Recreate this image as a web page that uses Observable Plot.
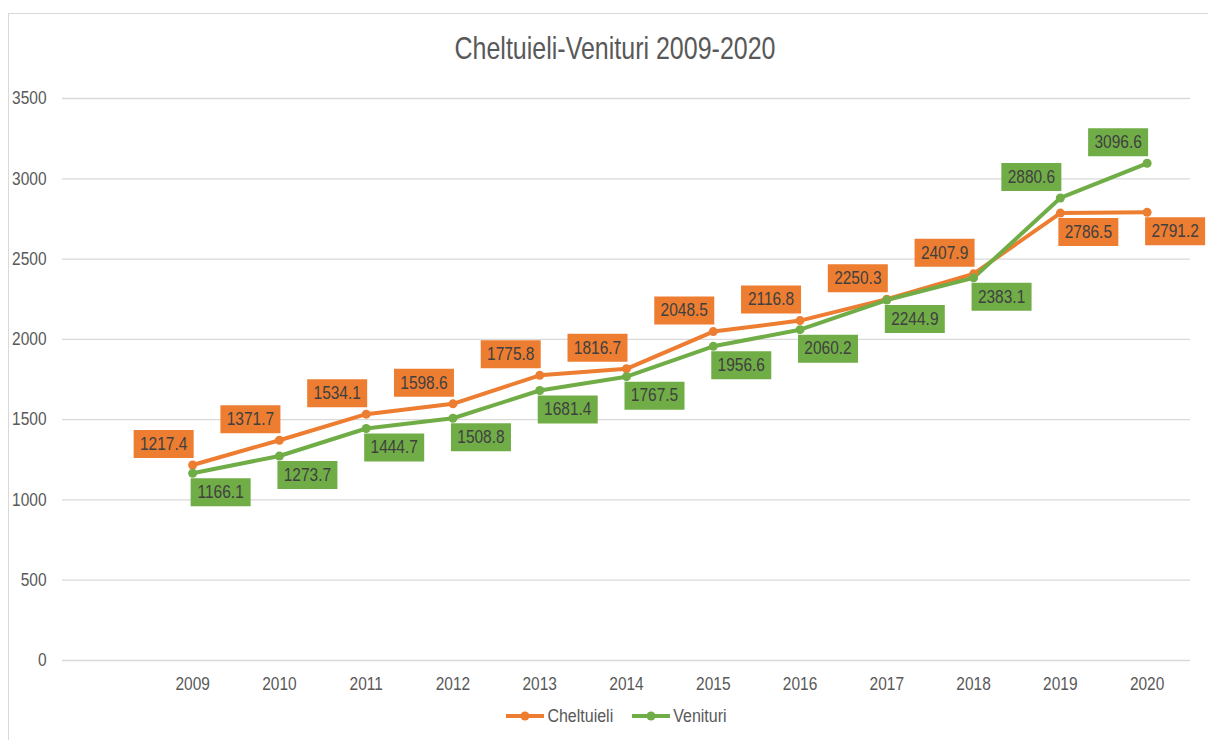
<!DOCTYPE html>
<html>
<head>
<meta charset="utf-8">
<script src="https://cdn.jsdelivr.net/npm/d3@7"></script>
<script src="https://cdn.jsdelivr.net/npm/@observablehq/plot@0.6"></script>
<style>
  html, body { margin: 0; padding: 0; background: #fff; }
  #wrap { position: relative; width: 1208px; height: 740px; overflow: hidden; font-family: "Liberation Sans", Arial, sans-serif; }
  #border { position: absolute; left: 8px; top: 13px; width: 1400px; height: 900px; border: 1px solid #d9d9d9; box-sizing: border-box; }
  #title { position: absolute; left: 0; top: 30px; width: 1230px; text-align: center; font-size: 25px; line-height: 36px; color: #595959; }
  #title span { display: inline-block; transform: scaleY(1.22); }
  #chart { position: absolute; left: 0; top: 70px; }
  #legend { position: absolute; left: 0; top: 702px; width: 1232px; display: flex; justify-content: center; align-items: center; gap: 18px; font-size: 16px; color: #595959; height: 28px; }
  .item { display: flex; align-items: center; gap: 2px; }
  .item span { display: inline-block; transform: scaleY(1.15); }
</style>
</head>
<body>
<div id="wrap">
  <div id="border"></div>
  <div id="title"><span>Cheltuieli-Venituri 2009-2020</span></div>
  <div id="chart"></div>
  <div id="legend"></div>
</div>
<script>
const years = [2009, 2010, 2011, 2012, 2013, 2014, 2015, 2016, 2017, 2018, 2019, 2020];
const cheltuieli = [1217.4, 1371.7, 1534.1, 1598.6, 1775.8, 1816.7, 2048.5, 2116.8, 2250.3, 2407.9, 2786.5, 2791.2];
const venituri = [1166.1, 1273.7, 1444.7, 1508.8, 1681.4, 1767.5, 1956.6, 2060.2, 2244.9, 2383.1, 2880.6, 3096.6];
const yTicks = [0, 500, 1000, 1500, 2000, 2500, 3000, 3500];
const seriesNames = ["Cheltuieli", "Venituri"];
const seriesColors = ["#ED7D31", "#70AD47"];

const data = [];
years.forEach((year, i) => {
  const c = cheltuieli[i], v = venituri[i];
  data.push({year, value: c, series: "Cheltuieli", up: c >= v});
  data.push({year, value: v, series: "Venituri", up: v > c});
});

const FONT = "Liberation Sans, Arial, sans-serif";
const boxSymbol = { draw(ctx) { ctx.rect(-30, -14, 60, 28); } };
const upData = data.filter(d => d.up);
const downData = data.filter(d => !d.up);
const UP = {dx: -29, dy: -21};
const DOWN = {dx: 28, dy: 19};

const fmt = d => d.value.toFixed(1);

const chart = Plot.plot({
  width: 1208,
  height: 630,
  marginTop: 28,
  marginBottom: 40,
  marginLeft: 62,
  marginRight: 18,
  style: { fontFamily: FONT, fontSize: "15.5px", color: "#595959", background: "transparent", overflow: "visible" },
  x: { type: "linear", domain: [2007.5, 2020.5], ticks: years, tickFormat: d => String(d), tickSize: 0, tickPadding: 18, label: null },
  y: { domain: [0, 3500], ticks: yTicks, tickFormat: d => String(d), tickSize: 0, tickPadding: 16, label: null },
  color: { domain: seriesNames, range: seriesColors },
  marks: [
    Plot.ruleY(yTicks, { stroke: "#d9d9d9", strokeWidth: 1.3 }),
    Plot.line(data, { x: "year", y: "value", z: "series", stroke: "series", strokeWidth: 4, curve: "linear" }),
    Plot.dot(data, { x: "year", y: "value", fill: "series", r: 4.5 }),
    Plot.dot(upData, { x: "year", y: "value", fill: "series", symbol: boxSymbol, dx: UP.dx, dy: UP.dy }),
    Plot.dot(downData, { x: "year", y: "value", fill: "series", symbol: boxSymbol, dx: DOWN.dx, dy: DOWN.dy }),
    Plot.text(upData, { x: "year", y: "value", text: fmt, dx: UP.dx, dy: UP.dy, fill: "#404040", fontSize: 15.5 }),
    Plot.text(downData, { x: "year", y: "value", text: fmt, dx: DOWN.dx, dy: DOWN.dy, fill: "#404040", fontSize: 15.5 })
  ]
});
document.getElementById("chart").appendChild(chart);

// Stretch text vertically (the reference's glyphs are tall and narrow), around each text's own centre.
chart.querySelectorAll("text").forEach(t => {
  const b = t.getBBox();
  const cx = b.x + b.width / 2, cy = b.y + b.height / 2;
  const prev = t.getAttribute("transform") || "";
  t.setAttribute("transform", `${prev} translate(${cx},${cy}) scale(1,1.15) translate(${-cx},${-cy})`);
});

const legend = d3.select("#legend");
seriesNames.forEach((name, i) => {
  const item = legend.append("div").attr("class", "item");
  const s = item.append("svg").attr("width", 40).attr("height", 14);
  s.append("line").attr("x1", 1).attr("x2", 39).attr("y1", 7).attr("y2", 7)
    .attr("stroke", seriesColors[i]).attr("stroke-width", 4);
  s.append("circle").attr("cx", 20).attr("cy", 7).attr("r", 4.5).attr("fill", seriesColors[i]);
  item.append("span").text(name);
});
</script>
</body>
</html>
